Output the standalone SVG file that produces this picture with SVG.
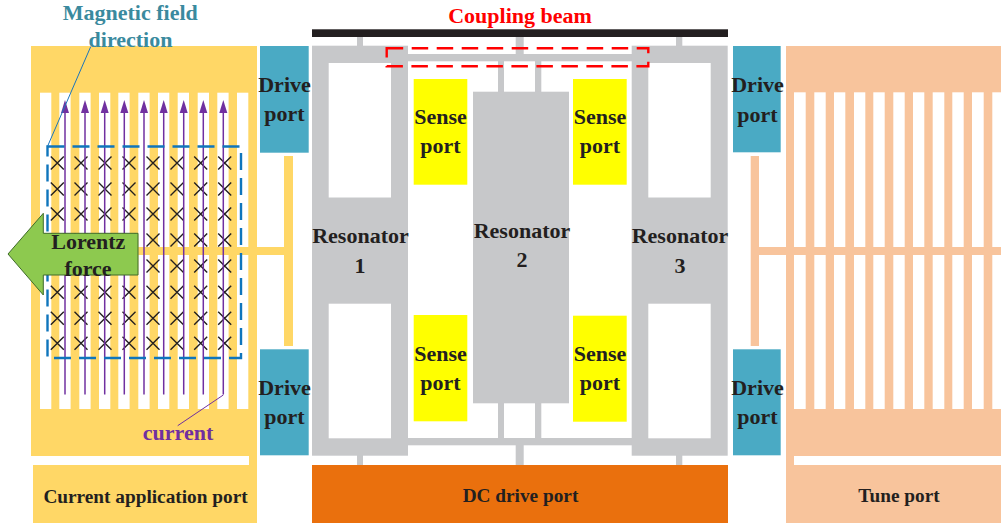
<svg xmlns="http://www.w3.org/2000/svg" width="1001" height="523" viewBox="0 0 1001 523">
<style>
text{font-family:"Liberation Serif","Times New Roman",serif;font-weight:bold;font-size:22px;fill:#231f20;text-anchor:middle}
.sm{font-size:19.3px}
.y{fill:#ffd766}.p{fill:#f8c49c}.w{fill:#fff}.g{fill:#c7c8ca}.t{fill:#4aaac4}.s{fill:#ffff00}
.xm{stroke:#231f20;stroke-width:1.4;fill:none}
.cur{stroke:#7030a0;stroke-width:1.5;fill:none;marker-end:url(#ah)}
</style>
<defs>
<marker id="ah" markerUnits="userSpaceOnUse" markerWidth="14" markerHeight="10" refX="0" refY="5" orient="auto"><path d="M0 1L13 5L0 9Z" fill="#7030a0"/></marker>
<g id="x"><path class="xm" d="M-6.5-6.5L6.5 6.5M-6.5 6.5L6.5-6.5"/></g>
<g id="xcol"><use href="#x" y="163"/><use href="#x" y="189"/><use href="#x" y="214"/><use href="#x" y="240"/><use href="#x" y="266"/><use href="#x" y="292.3"/><use href="#x" y="318.3"/><use href="#x" y="343.3"/></g>
</defs>
<rect width="1001" height="523" fill="#fff"/>

<g id="current-application-port">
<path class="y" d="M31 46H257V523H33V465H249V456H31Z"/>
<g class="w">
<rect x="40" y="92.7" width="11.3" height="316.3"/><rect x="59.3" y="92.7" width="11.3" height="316.3"/><rect x="79.3" y="92.7" width="11.3" height="316.3"/><rect x="99" y="92.7" width="11.3" height="316.3"/><rect x="118.3" y="92.7" width="11.3" height="316.3"/><rect x="138.3" y="92.7" width="11.3" height="316.3"/><rect x="158" y="92.7" width="11.3" height="316.3"/><rect x="177.7" y="92.7" width="11.3" height="316.3"/><rect x="197.7" y="92.7" width="11.3" height="316.3"/><rect x="217.3" y="92.7" width="11.3" height="316.3"/><rect x="237" y="92.7" width="11.3" height="316.3"/>
</g>
<rect class="y" x="31" y="247" width="261" height="8"/>
<rect class="y" x="284" y="156" width="9" height="190"/>
<text class="sm" x="145.5" y="502.5">Current application port</text>
</g>

<g id="magnetic-field-marks">
<use href="#xcol" x="57.3"/><use href="#xcol" x="81"/><use href="#xcol" x="105"/><use href="#xcol" x="129"/><use href="#xcol" x="153"/><use href="#xcol" x="177"/><use href="#xcol" x="200.7"/><use href="#xcol" x="224.7"/>
</g>

<g id="tune-port">
<path class="p" d="M786 46H1001V456H794V465H1001V523H786Z"/>
<g class="w">
<rect x="794" y="92.3" width="11.7" height="316.7"/><rect x="814.3" y="92.3" width="11.4" height="316.7"/><rect x="834" y="92.3" width="11.3" height="316.7"/><rect x="854" y="92.3" width="11.3" height="316.7"/><rect x="873.3" y="92.3" width="11.4" height="316.7"/><rect x="893.3" y="92.3" width="11.4" height="316.7"/><rect x="913" y="92.3" width="11.3" height="316.7"/><rect x="932.7" y="92.3" width="11.6" height="316.7"/><rect x="952.3" y="92.3" width="11.4" height="316.7"/><rect x="972" y="92.3" width="11.7" height="316.7"/><rect x="992.3" y="92.3" width="9" height="316.7"/>
</g>
<rect class="p" x="751" y="247" width="250" height="8"/>
<rect class="p" x="750.7" y="156" width="8.3" height="190"/>
<text class="sm" x="899" y="502">Tune port</text>
</g>

<g id="coupling-beam">
<rect x="312" y="29.3" width="416" height="7.7" fill="#231f20"/>
<text x="520" y="23" style="fill:#f00">Coupling beam</text>
</g>

<g id="frame" class="g">
<rect x="408" y="54" width="224" height="7.3"/>
<rect x="408" y="438" width="224" height="7.3"/>
<rect x="498" y="61" width="6" height="31"/><rect x="535" y="61" width="6.3" height="31"/>
<rect x="498" y="403" width="6" height="35"/><rect x="535" y="403" width="6.3" height="35"/>
<rect x="515.7" y="37" width="8" height="17"/><rect x="515.7" y="445" width="8" height="20"/>
<rect x="357" y="37" width="6" height="9"/><rect x="357" y="455" width="6" height="10"/>
<rect x="676" y="37" width="6.3" height="9"/><rect x="676" y="455" width="6.3" height="10"/>
</g>

<g id="resonator-1">
<rect class="g" x="312" y="45.7" width="96" height="410"/>
<rect class="w" x="328.7" y="63" width="62.3" height="134.5"/><rect class="w" x="328.7" y="303.7" width="62.3" height="134.6"/>
<text x="360.5" y="243.3">Resonator</text><text x="360" y="272.7">1</text>
</g>
<g id="resonator-2">
<rect class="g" x="473" y="91.7" width="96" height="311.6"/>
<text x="522" y="238">Resonator</text><text x="522" y="267">2</text>
</g>
<g id="resonator-3">
<rect class="g" x="631.7" y="45.7" width="96" height="410"/>
<rect class="w" x="648.3" y="63" width="62.4" height="134.5"/><rect class="w" x="648.3" y="303.7" width="62.4" height="134.6"/>
<text x="680" y="243.3">Resonator</text><text x="680" y="272.7">3</text>
</g>

<g id="sense-port-tl"><rect class="s" x="413.7" y="79" width="53.6" height="105.7"/><text x="440.5" y="124.3">Sense</text><text x="440.5" y="153.3">port</text></g>
<g id="sense-port-tr"><rect class="s" x="573" y="79" width="53.7" height="105.7"/><text x="600" y="124.3">Sense</text><text x="600" y="153.3">port</text></g>
<g id="sense-port-bl"><rect class="s" x="413.7" y="315" width="53.6" height="106.3"/><text x="440.5" y="361">Sense</text><text x="440.5" y="390">port</text></g>
<g id="sense-port-br"><rect class="s" x="573" y="315.7" width="53.7" height="106"/><text x="600" y="361">Sense</text><text x="600" y="390">port</text></g>

<g id="drive-port-1"><rect class="t" x="260" y="46" width="48.7" height="106.7"/><text x="284.5" y="91.7">Drive</text><text x="284.5" y="120.7">port</text></g>
<g id="drive-port-2"><rect class="t" x="260" y="349.3" width="48.7" height="106"/><text x="284.5" y="395">Drive</text><text x="284.5" y="424">port</text></g>
<g id="drive-port-3"><rect class="t" x="733" y="46" width="47.7" height="106.3"/><text x="757.5" y="92.3">Drive</text><text x="757.5" y="121.7">port</text></g>
<g id="drive-port-4"><rect class="t" x="733" y="349.3" width="47.7" height="106"/><text x="757.5" y="395">Drive</text><text x="757.5" y="424.3">port</text></g>

<g id="dc-drive-port"><rect x="312" y="465" width="416" height="58" fill="#ea700d"/><text class="sm" x="520.5" y="502">DC drive port</text></g>

<g id="connectors">
<path class="cur" d="M65 394.5V113"/><path class="cur" d="M85 394.5V113"/><path class="cur" d="M104.7 394.5V113"/><path class="cur" d="M124.3 394.5V113"/><path class="cur" d="M144 394.5V113"/><path class="cur" d="M163.7 394.5V113"/><path class="cur" d="M183.7 394.5V113"/><path class="cur" d="M203.3 394.5V113"/><path class="cur" d="M223.3 394.5V113"/>
<path d="M223.3 395L177.7 425.7" stroke="#7030a0" stroke-width="1" fill="none"/>
<path d="M90.7 46.7L47.7 146" stroke="#1b75bb" stroke-width="1" fill="none"/>
<rect x="47.5" y="146.5" width="193.5" height="211.5" fill="none" stroke="#0f75bc" stroke-width="2.4" stroke-dasharray="17 8"/>
<rect x="386.7" y="48.3" width="261.6" height="18" fill="none" stroke="#f00" stroke-width="2.4" stroke-dasharray="16.5 8.5"/>
</g>

<g id="lorentz-force">
<path d="M43.3 213.3V233.3H138V275H43.3V295L8 254Z" fill="#8dc94f" stroke="#3f6b2a" stroke-width="1"/>
<text x="88.3" y="249.3">Lorentz</text><text x="88" y="275.7">force</text>
</g>

<g id="labels">
<text x="130.3" y="20" style="fill:#3a8a9e">Magnetic field</text>
<text x="130.5" y="46.7" style="fill:#3a8a9e">direction</text>
<text x="178" y="440" style="fill:#7030a0">current</text>
</g>
</svg>
